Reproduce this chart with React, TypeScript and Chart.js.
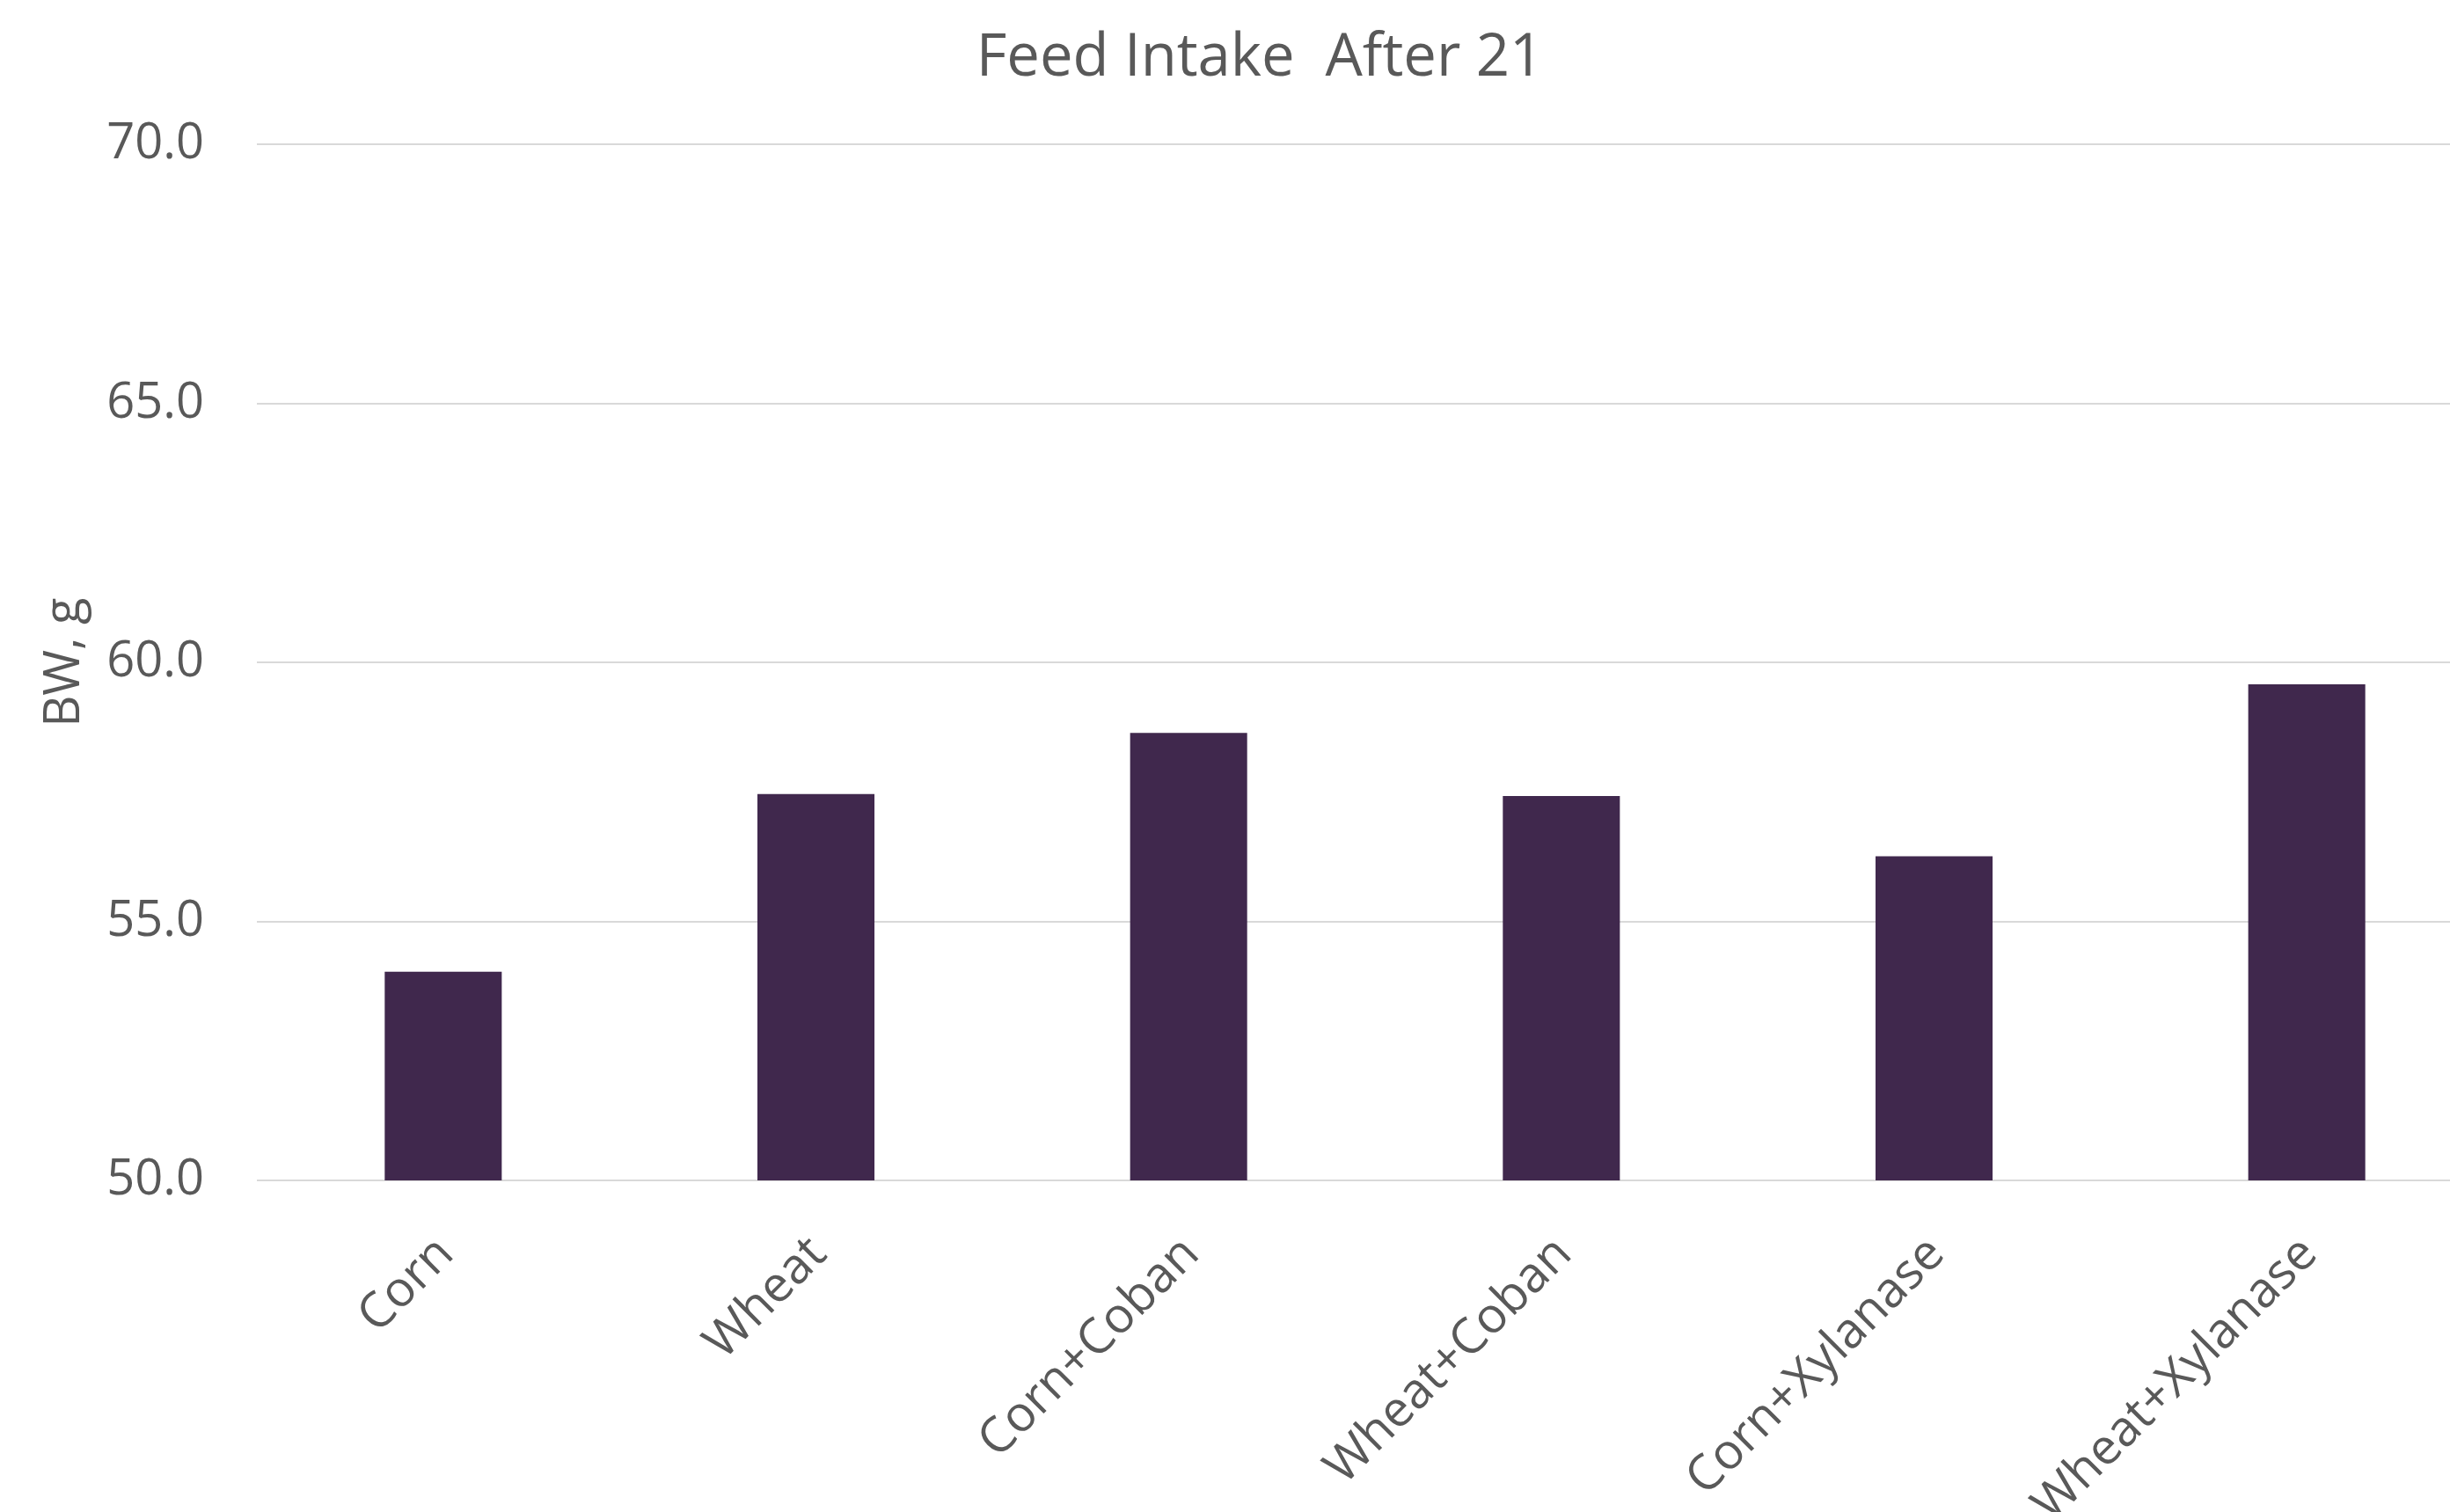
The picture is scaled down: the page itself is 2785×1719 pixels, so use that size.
import { useEffect, useRef } from "react";
import { Chart, registerables } from "chart.js";

Chart.register(...registerables);

const categories = ["Corn", "Wheat", "Corn+Coban", "Wheat+Coban", "Corn+Xylanase", "Wheat+Xylanase"];
const feedIntake = [54.03, 57.46, 58.64, 57.42, 56.26, 59.58];
const yTickValues = [50, 55, 60, 65, 70];
const titleText = "Feed Intake  After 21";
const yAxisTitle = "BW, g";

const W = 2864;
const H = 1800;
const FONT = "'Open Sans', 'DejaVu Sans', sans-serif";
const TEXT = "#595959";

export default function App() {
  const ref = useRef<HTMLCanvasElement>(null);
  useEffect(() => {
    document.body.style.margin = "0";
    document.body.style.overflow = "hidden";
    const chart = new Chart(ref.current!, {
      type: "bar",
      data: {
        labels: categories,
        datasets: [
          {
            data: feedIntake,
            backgroundColor: "#40284D",
            barPercentage: 0.314,
            categoryPercentage: 1,
          },
        ],
      },
      options: {
        responsive: false,
        animation: false,
        layout: { padding: { left: 30, right: 30, top: 0, bottom: 0 } },
        plugins: {
          legend: { display: false },
          tooltip: { enabled: false },
          title: {
            display: true,
            text: titleText,
            color: TEXT,
            font: { family: FONT, size: 67, weight: "normal" },
            padding: { top: 27, bottom: 57 },
          },
        },
        scales: {
          x: {
            grid: { display: false, drawTicks: false },
            border: { display: false },
            ticks: {
              color: TEXT,
              font: { family: FONT, size: 56 },
              minRotation: 45,
              maxRotation: 45,
              autoSkip: false,
              padding: 51,
              labelOffset: 3,
            },
            afterFit: (s: any) => {
              s.height = H - 1342;
            },
          },
          y: {
            min: 50,
            max: 70,
            afterBuildTicks: (s: any) => {
              s.ticks = yTickValues.map((v) => ({ value: v }));
            },
            grid: { color: "#D9D9D9", lineWidth: 2, drawTicks: false },
            border: { display: false },
            ticks: {
              color: TEXT,
              font: { family: FONT, size: 56 },
              padding: 60,
              callback: (v: any) => Number(v).toFixed(1),
            },
            title: {
              display: true,
              text: yAxisTitle,
              color: TEXT,
              font: { family: FONT, size: 56 },
              padding: { top: 10, bottom: 0 },
            },
            afterFit: (s: any) => {
              s.width = 262;
            },
          },
        },
      },
    });
    return () => chart.destroy();
  }, []);
  return <canvas ref={ref} width={W} height={H} style={{ display: "block" }} />;
}
